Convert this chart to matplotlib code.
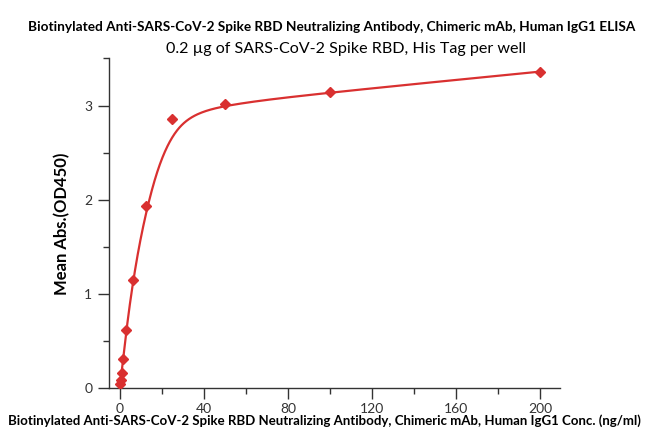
import numpy as np
import matplotlib
matplotlib.use("Agg")
import matplotlib.pyplot as plt
from matplotlib.ticker import MultipleLocator

# concentration (ng/ml) and mean OD450
conc = [200, 100, 50, 25, 12.5, 6.25, 3.125, 1.5625, 0.781, 0.391, 0.195]
od450 = [3.36, 3.14, 3.02, 2.86, 1.93, 1.15, 0.62, 0.31, 0.16, 0.09, 0.04]

title = "Biotinylated Anti-SARS-CoV-2 Spike RBD Neutralizing Antibody, Chimeric mAb, Human IgG1 ELISA"
subtitle = "0.2 \u00b5g of SARS-CoV-2 Spike RBD, His Tag per well"
xlabel = "Biotinylated Anti-SARS-CoV-2 Spike RBD Neutralizing Antibody, Chimeric mAb, Human IgG1 Conc. (ng/ml)"
ylabel = "Mean Abs.(OD450)"
red = "#d93030"

plt.rcParams['font.family'] = ['Lato', 'DejaVu Sans']


def bspline(px, py, deg=3, n=600):
    # clamped B-spline using the data points as control points
    P = np.column_stack([px, py])
    m = len(P)
    inner = np.linspace(0, 1, m - deg + 1)
    knots = np.concatenate([[0] * deg, inner, [1] * deg])
    ts = np.linspace(0, 1 - 1e-9, n)

    def basis(i, k, t):
        if k == 0:
            return np.where((knots[i] <= t) & (t < knots[i + 1]), 1.0, 0.0)
        out = np.zeros_like(t)
        d1 = knots[i + k] - knots[i]
        d2 = knots[i + k + 1] - knots[i + 1]
        if d1 > 0:
            out += (t - knots[i]) / d1 * basis(i, k - 1, t)
        if d2 > 0:
            out += (knots[i + k + 1] - t) / d2 * basis(i + 1, k - 1, t)
        return out

    B = np.column_stack([basis(i, deg, ts) for i in range(m)])
    curve = B @ P
    curve = np.vstack([curve, P[-1]])
    return curve[:, 0], curve[:, 1]


order = np.argsort(conc)
cx, cy = bspline(np.array(conc)[order], np.array(od450)[order])

fig = plt.figure(figsize=(6.52, 4.28), dpi=100)
ax = fig.add_axes([0.167, 0.0935, 0.692, 0.77])

ax.plot(cx, cy, color=red, lw=1.6, zorder=2)
ax.plot(conc, od450, linestyle="none", marker="D", ms=5, color=red, zorder=3)

ax.set_xlim(-5.24, 209.5)
ax.set_ylim(0, 3.5)
ax.xaxis.set_major_locator(MultipleLocator(40))
ax.xaxis.set_minor_locator(MultipleLocator(20))
ax.yaxis.set_major_locator(MultipleLocator(1))
ax.yaxis.set_minor_locator(MultipleLocator(0.5))
ax.tick_params(which="major", direction="out", length=8, width=1, labelsize=10,
               colors="#333333", pad=4)
ax.tick_params(which="minor", direction="out", length=4, width=1, colors="#333333")
ax.tick_params(axis="x", which="major", pad=3)
for side in ["top", "right"]:
    ax.spines[side].set_visible(False)
for side in ["left", "bottom"]:
    ax.spines[side].set_color("#333333")
    ax.spines[side].set_linewidth(1)

fig.text(0.508, 0.938, title, ha="center", va="center", fontsize=9.8, fontweight="bold")
fig.text(0.53, 0.885, subtitle, ha="center", va="center", fontsize=11.6)
fig.text(0.095, 0.478, ylabel, ha="center", va="center", rotation=90,
         fontsize=12, fontweight="bold")
fig.text(0.012, 0.018, xlabel, ha="left", va="center", fontsize=9.5, fontweight="bold")

fig.savefig("out.png", dpi=100)
